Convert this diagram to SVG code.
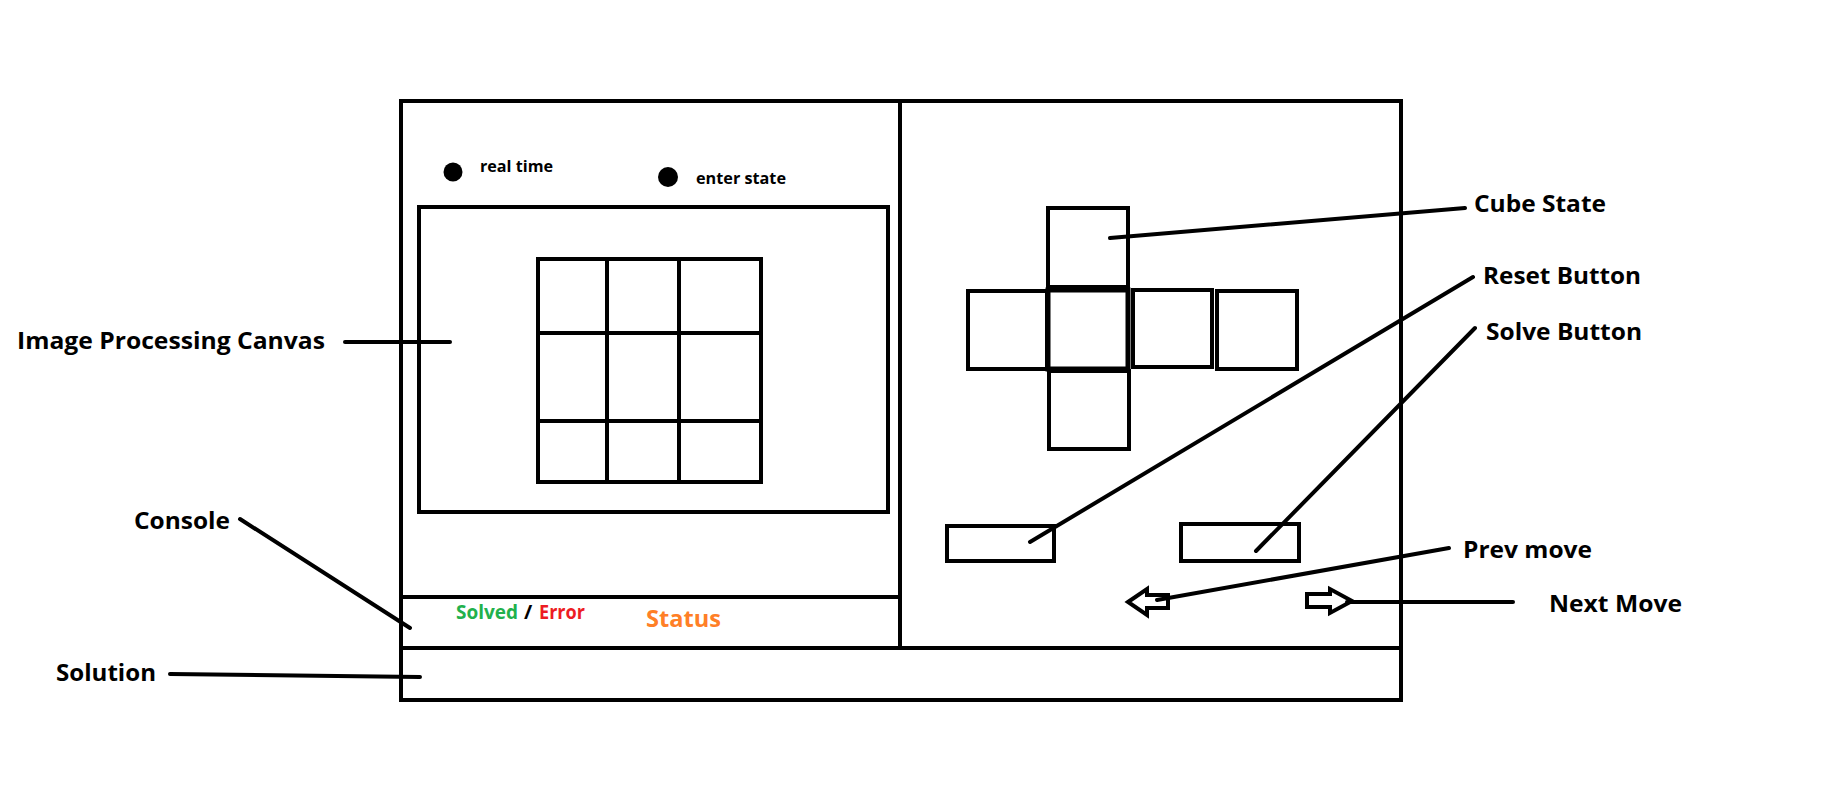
<svg xmlns="http://www.w3.org/2000/svg" width="1847" height="800" viewBox="0 0 1847 800">
<style>
.s{fill:none;stroke:#000;stroke-width:4}
.c{fill:none;stroke:#000;stroke-width:4;stroke-linecap:round}
.t{font-family:"Open Sans","Liberation Sans",sans-serif;font-weight:700;fill:#000}
.lbl{font-size:24px}
.sm{font-size:16px}
</style>
<rect width="1847" height="800" fill="#fff"/>
<g id="frame">
<rect class="s" x="401" y="101" width="1000" height="599"/>
<line class="s" x1="900" y1="101" x2="900" y2="648"/>
<line class="s" x1="399" y1="597" x2="900" y2="597"/>
<line class="s" x1="401" y1="648" x2="1401" y2="648"/>
</g>
<g id="mode-radio">
<circle cx="453" cy="172" r="9.5" fill="#000"/>
<text class="t sm" x="480" y="172" textLength="73" lengthAdjust="spacingAndGlyphs">real time</text>
<circle cx="668" cy="177" r="10" fill="#000"/>
<text class="t sm" x="696" y="184" textLength="90" lengthAdjust="spacingAndGlyphs">enter state</text>
</g>
<g id="canvas">
<rect class="s" x="419" y="207" width="469" height="305"/>
<rect class="s" x="538" y="259" width="223" height="223"/>
<line class="s" x1="607" y1="257" x2="607" y2="482"/>
<line class="s" x1="679" y1="257" x2="679" y2="482"/>
<line class="s" x1="536" y1="333" x2="761" y2="333"/>
<line class="s" x1="538" y1="421" x2="761" y2="421"/>
</g>
<g id="console">
<text class="t" x="456" y="619" font-size="20" textLength="62" lengthAdjust="spacingAndGlyphs" style="fill:#22b14c">Solved</text>
<text class="t" x="524" y="619" font-size="20">/</text>
<text class="t" x="539" y="619" font-size="20" textLength="46" lengthAdjust="spacingAndGlyphs" style="fill:#ed1c24">Error</text>
<text class="t" x="646" y="627" font-size="24" textLength="75" lengthAdjust="spacingAndGlyphs" style="fill:#ff7f27">Status</text>
</g>
<g id="cube-state">
<rect class="s" x="1048" y="208" width="80" height="79"/>
<rect class="s" x="968" y="291" width="79" height="78"/>
<rect class="s" x="1048" y="290" width="80" height="79" style="stroke-width:5"/>
<rect class="s" x="1133" y="290" width="79" height="77"/>
<rect class="s" x="1217" y="291" width="80" height="78"/>
<rect class="s" x="1049" y="371" width="80" height="78"/>
</g>
<g id="reset-button"><rect class="s" x="947" y="526" width="107" height="35"/></g>
<g id="solve-button"><rect class="s" x="1181" y="524" width="118" height="37"/></g>
<g id="prev-arrow"><polygon class="s" points="1128,602 1147,589 1147,595 1168,595 1168,608 1147,608 1147,615"/></g>
<g id="next-arrow"><polygon class="s" points="1307,594 1330,594 1330,589 1352,601 1330,613 1330,607 1307,607"/></g>
<g id="labels">
<text class="t lbl" x="17" y="349" textLength="308" lengthAdjust="spacingAndGlyphs">Image Processing Canvas</text>
<text class="t lbl" x="134" y="529" textLength="96" lengthAdjust="spacingAndGlyphs">Console</text>
<text class="t lbl" x="56" y="681" textLength="100" lengthAdjust="spacingAndGlyphs">Solution</text>
<text class="t lbl" x="1474" y="212" textLength="132" lengthAdjust="spacingAndGlyphs">Cube State</text>
<text class="t lbl" x="1483" y="284" textLength="158" lengthAdjust="spacingAndGlyphs">Reset Button</text>
<text class="t lbl" x="1486" y="340" textLength="156" lengthAdjust="spacingAndGlyphs">Solve Button</text>
<text class="t lbl" x="1463" y="558" textLength="129" lengthAdjust="spacingAndGlyphs">Prev move</text>
<text class="t lbl" x="1549" y="612" textLength="133" lengthAdjust="spacingAndGlyphs">Next Move</text>
</g>
<g id="connectors">
<line class="c" x1="345" y1="342" x2="450" y2="342"/>
<line class="c" x1="240" y1="519" x2="410" y2="628"/>
<line class="c" x1="170" y1="674" x2="420" y2="677"/>
<line class="c" x1="1110" y1="238" x2="1465" y2="208"/>
<line class="c" x1="1030" y1="542" x2="1473" y2="277"/>
<line class="c" x1="1256" y1="551" x2="1475" y2="328"/>
<line class="c" x1="1157" y1="600" x2="1449" y2="548"/>
<line class="c" x1="1347" y1="602" x2="1513" y2="602"/>
</g>
</svg>
